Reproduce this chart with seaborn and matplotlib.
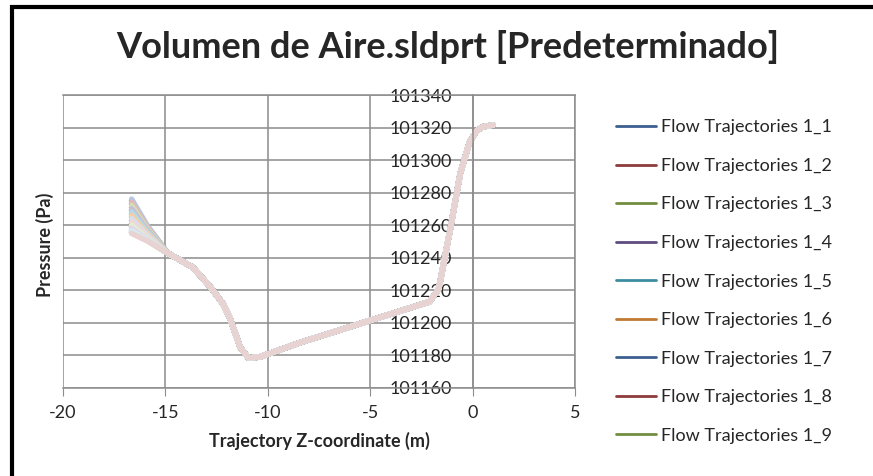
"""
Pressure along flow trajectories (Volumen de Aire.sldprt) — Excel-style line chart.
"""

import pandas as pd
import matplotlib
matplotlib.use("Agg")
import matplotlib.pyplot as plt
import seaborn as sns
from matplotlib.patches import Rectangle


# ============================================================
# Data
# ============================================================

TITLE = "Volumen de Aire.sldprt [Predeterminado]"
X_LABEL = "Trajectory Z-coordinate (m)"
Y_LABEL = "Pressure (Pa)"

X_TICKS = [-20, -15, -10, -5, 0, 5]
Y_TICKS = [101160, 101180, 101200, 101220, 101240, 101260, 101280, 101300, 101320, 101340]

# start of each trajectory (the fan on the left) and where it bends in
Z_START = [-16.65, -15.9]
START_P = [101275, 101273, 101271, 101269, 101267, 101265,
           101263, 101261, 101259, 101257, 101256, 101255.5,
           101276, 101274, 101272, 101270, 101268, 101266,
           101264, 101262, 101260, 101258, 101256.5, 101255]
KNEE_P = [101259.5, 101258.5, 101257.5, 101256.5, 101255.5, 101254.5,
          101253.5, 101252.5, 101252, 101251.5, 101251, 101250.8,
          101260, 101259, 101258, 101257, 101256, 101255,
          101254, 101253, 101252.2, 101251.6, 101251, 101250.5]

# common path followed by all trajectories afterwards
Z_PATH = [-14.9, -13.65, -12.8, -12.2, -11.85, -11.35, -10.95, -10.4,
          -8.4, -6.0, -2.1, -1.65, -1.1, -0.6, -0.15, 0.2, 0.5, 1.0]
P_PATH = [101243, 101234, 101222, 101212, 101203, 101185, 101178.5, 101179,
          101188, 101197.5, 101213, 101221, 101257, 101292, 101311, 101318,
          101320.5, 101321.5]

SERIES = [f"Flow Trajectories 1_{i + 1}" for i in range(len(START_P))]

# Excel 2007 style series colours: dark shades first, lighter tints later
SERIES_COLORS = [
    "#3C5F91", "#8E3B3B", "#728E3E", "#5E4C7E", "#3B8CA0", "#C07A33",
    "#3C5F91", "#8E3B3B", "#728E3E", "#5E4C7E", "#3B8CA0", "#C07A33",
    "#B7C7E0", "#E2B9B8", "#CFE0B5", "#C7BDD9", "#B4DCE6", "#F6CDA6",
    "#D5DFEE", "#EFD7D7", "#E3EDD5", "#DFD8E9", "#D6ECF2", "#E8D2D2",
]


# ============================================================
# Plot
# ============================================================

rows = []
for name, s, k in zip(SERIES, START_P, KNEE_P):
    zs = Z_START + Z_PATH
    ps = [s, k] + P_PATH
    for z, p in zip(zs, ps):
        rows.append({"series": name, "z": z, "p": p})
df = pd.DataFrame(rows)

sns.set_style("white")
plt.rcParams["font.family"] = ["Lato", "DejaVu Sans"]

fig = plt.figure(figsize=(8.73, 4.76), dpi=100)
ax = fig.add_axes([63 / 873, 1 - 388 / 476, 512 / 873, 293 / 476])

# vertical axis crosses at z = 0 (Excel style) -- set before tick labels
ax.spines["left"].set_position(("data", 0))

sns.lineplot(data=df, x="z", y="p", hue="series", palette=SERIES_COLORS,
             sort=False, estimator=None, linewidth=4, ax=ax)

handles, labels = ax.get_legend_handles_labels()
ax.get_legend().remove()

ax.set_xlim(-20, 5)
ax.set_ylim(101160, 101340)
ax.set_xticks(X_TICKS)
ax.set_yticks(Y_TICKS)
ax.set_xticklabels([str(t) for t in X_TICKS], fontsize=13)
ax.set_yticklabels([str(t) for t in Y_TICKS], fontsize=13)
ax.grid(True, color="#8c8c8c", linewidth=1.1)
ax.set_axisbelow(True)

for sp in ax.spines.values():
    sp.set_color("#8c8c8c")
    sp.set_linewidth(1.1)
ax.tick_params(axis="y", length=0, pad=15, labelsize=13)
ax.tick_params(axis="x", length=6, color="#8c8c8c", direction="out", pad=6,
               bottom=True, labelsize=13)

ax.set_xlabel(X_LABEL, fontsize=13, fontweight="bold", labelpad=8)
ax.set_ylabel("")
fig.text(45 / 873, 1 - 245 / 476, Y_LABEL, rotation=90, fontsize=13,
         fontweight="bold", ha="center", va="center")

fig.text(448 / 873, 1 - 47 / 476, TITLE, fontsize=26, fontweight="bold",
         ha="center", va="center")

leg = fig.legend(handles[:9], labels[:9], loc="upper left",
                 bbox_to_anchor=(600 / 873, 1 - 103 / 476), frameon=False,
                 fontsize=13, handlelength=2.2, handletextpad=0.3,
                 labelspacing=1.25)
for line in leg.get_lines():
    line.set_linewidth(2)

# black frame (left and top) of the screenshot
fig.add_artist(Rectangle((12 / 873, -0.2), 2.0, 1.2 - 7 / 476,
                         transform=fig.transFigure, fill=False,
                         edgecolor="black", linewidth=3))

fig.savefig("out.png", dpi=100)
